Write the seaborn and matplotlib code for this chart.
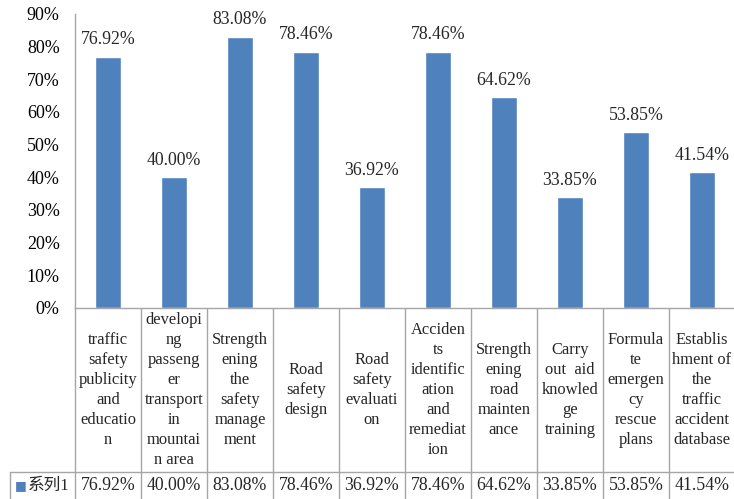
import matplotlib
matplotlib.use("Agg")
import matplotlib.pyplot as plt
import matplotlib.transforms as mtransforms
import seaborn as sns
import pandas as pd

categories = [
    "traffic\nsafety\npublicity\nand\neducatio\nn",
    "developi\nng\npasseng\ner\ntransport\nin\nmountai\nn area",
    "Strength\nening\nthe\nsafety\nmanage\nment",
    "Road\nsafety\ndesign",
    "Road\nsafety\nevaluati\non",
    "Acciden\nts\nidentific\nation\nand\nremediat\nion",
    "Strength\nening\nroad\nmainten\nance",
    "Carry\nout  aid\nknowled\nge\ntraining",
    "Formula\nte\nemergen\ncy\nrescue\nplans",
    "Establis\nhment of\nthe\ntraffic\naccident\ndatabase",
]
values = [76.92, 40.00, 83.08, 78.46, 36.92, 78.46, 64.62, 33.85, 53.85, 41.54]
series_name = "系列1"
yticks = [0, 10, 20, 30, 40, 50, 60, 70, 80, 90]

sns.set_theme(style="white")
plt.rcParams["font.family"] = ["Liberation Serif", "Noto Sans CJK SC"]

BAR = "#4F81BD"
GRID = "#A6A6A6"
W, H = 734, 499

fig = plt.figure(figsize=(W / 100, H / 100), dpi=100)
ax = fig.add_axes([75 / W, (H - 308) / H, 660 / W, (308 - 14) / H])

df = pd.DataFrame({"idx": range(len(values)), "value": values})
sns.barplot(data=df, x="idx", y="value", color=BAR, width=0.39,
            saturation=1, ax=ax, native_scale=True)
ax.set_xlim(-0.5, len(values) - 0.5)
ax.set_ylim(0, 90)
ax.set_yticks(yticks)
ax.set_yticklabels([f"{t}%" for t in yticks], fontsize=13)
ax.set_xticks([])
ax.set_xlabel("")
ax.set_ylabel("")
ax.tick_params(axis="y", length=0, pad=11, colors="#000000")
for s in ["top", "right"]:
    ax.spines[s].set_visible(False)
for s in ["left", "bottom"]:
    ax.spines[s].set_color(GRID)
    ax.spines[s].set_linewidth(1)

# value labels above each bar
for i, v in enumerate(values):
    ax.annotate(f"{v:.2f}%", (i, v), xytext=(0, 6), textcoords="offset points",
                ha="center", va="bottom", fontsize=12.8)

# data table below the plot area
trans = mtransforms.blended_transform_factory(ax.transData, fig.transFigure)
ftrans = fig.transFigure
y_axis = (H - 308) / H
y_row = (H - 472) / H
y_bot = 0.0

for k in range(len(values) + 1):
    xb = k - 0.5
    ax.plot([xb, xb], [y_axis, y_bot], transform=trans, color=GRID, lw=1,
            clip_on=False)
# row separator across legend cell and values
fig.add_artist(plt.Line2D([10 / W, 1.0], [y_row, y_row], color=GRID, lw=1,
                          transform=ftrans))
fig.add_artist(plt.Line2D([10 / W, 10 / W], [y_row, y_bot], color=GRID, lw=1,
                          transform=ftrans))

y_cat = (H - 390) / H
y_val = (H - 486) / H
for i, (c, v) in enumerate(zip(categories, values)):
    ax.text(i, y_cat, c, transform=trans, ha="center", va="center",
            fontsize=11.9, linespacing=1.34, clip_on=False)
    ax.text(i, y_val, f"{v:.2f}%", transform=trans, ha="center",
            va="center", fontsize=12.8, clip_on=False)

# legend key in the table
fig.text(15 / W, y_val, "■", color=BAR, fontsize=9, ha="left", va="center",
         family=["DejaVu Sans"])
fig.text(28 / W, y_val, series_name, fontsize=12, ha="left", va="center")

fig.savefig("out.png", dpi=100)
